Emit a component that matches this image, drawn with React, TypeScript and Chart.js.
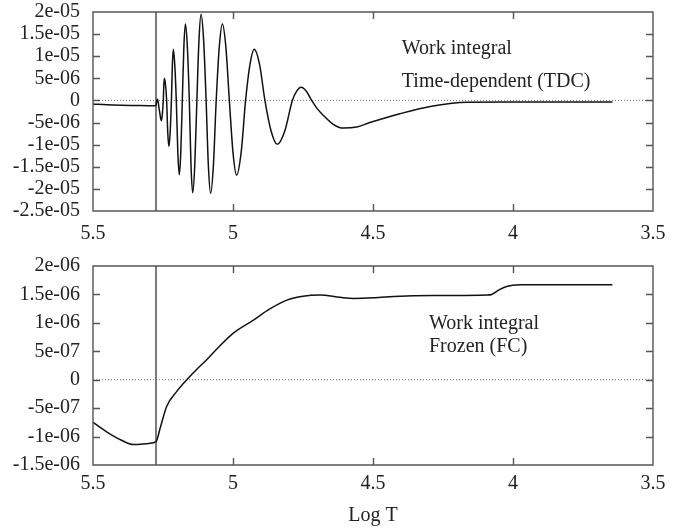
import React, { useEffect, useRef } from "react";
import { Chart, registerables } from "chart.js";

Chart.register(...registerables);

// ---------- data ----------
const xTicks = [5.5, 5, 4.5, 4, 3.5];
const topYTicks = [-2.5e-5, -2e-5, -1.5e-5, -1e-5, -5e-6, 0, 5e-6, 1e-5, 1.5e-5, 2e-5];
const bottomYTicks = [-1.5e-6, -1e-6, -5e-7, 0, 5e-7, 1e-6, 1.5e-6, 2e-6];

const boundaryLogT = 5.275;

// top panel (TDC), values in units of 1e-6
const topLogT = [
  5.5, 5.45, 5.4, 5.35, 5.3, 5.276, 5.27, 5.263, 5.256, 5.2525, 5.249, 5.247, 5.245, 5.241, 5.237,
  5.233, 5.229, 5.2245, 5.22, 5.2165, 5.213, 5.208, 5.2025, 5.197, 5.192, 5.1865, 5.181, 5.1755, 5.17,
  5.163, 5.156, 5.15, 5.144, 5.1365, 5.129, 5.1215, 5.114, 5.105, 5.096, 5.088, 5.08, 5.07, 5.06,
  5.049, 5.038, 5.0255, 5.013, 5.0, 4.987, 4.971, 4.955, 4.9395, 4.924, 4.905, 4.886, 4.864, 4.842,
  4.815, 4.788, 4.7725, 4.757, 4.738, 4.719, 4.7, 4.677, 4.642, 4.606, 4.558, 4.511, 4.404, 4.286,
  4.164, 4.0, 3.8, 3.645,
];
const topWorkE6 = [
  -0.8, -1.0, -1.1, -1.15, -1.2, -1.2, 0.3, -2.2, -4.6, -3.2, 0, 3.5, 5.0, 3.5, 0,
  -7.3, -10.4, -7.3, 0, 8.1, 11.6, 8.1, 0, -11.8, -16.8, -11.8, 0, 12.1, 17.3,
  12.1, 0, -14.6, -20.9, -14.6, 0, 13.7, 19.5, 13.7, 0, -14.7, -21.0, -14.7, 0,
  12.1, 17.3, 12.1, 0, -11.8, -16.9, -11.8, 0, 8.1, 11.6, 8.1, 0, -6.9, -9.9,
  -6.9, 0, 2.1, 3.0, 2.1, 0, -1.8, -3.4, -5.4, -6.25, -6.0, -5.0, -3.0, -1.25,
  -0.4, -0.35, -0.35, -0.35,
];

// bottom panel (FC), values in units of 1e-6
const bottomLogT = [
  5.5, 5.45, 5.4, 5.356, 5.3, 5.275, 5.26, 5.237, 5.2, 5.165, 5.13, 5.094, 5.05, 4.999, 4.927, 4.87,
  4.808, 4.75, 4.689, 4.618, 4.57, 4.5, 4.404, 4.25, 4.094, 4.076, 4.05, 4.023, 3.975, 3.8, 3.645,
];
const bottomWorkE6 = [
  -0.75, -0.92, -1.06, -1.14, -1.12, -1.09, -0.85, -0.47, -0.2, 0, 0.18,
  0.35, 0.58, 0.82, 1.05, 1.24, 1.4, 1.47, 1.49, 1.45, 1.43, 1.44,
  1.47, 1.48, 1.49, 1.5, 1.58, 1.64, 1.67, 1.67, 1.67,
];

const topNotes = ["Work integral", "Time-dependent (TDC)"];
const topNoteAnchor = { logT: 4.397, values: [11.6e-6, 4.2e-6] };
const bottomNotes = ["Work integral", "Frozen (FC)"];
const bottomNoteAnchor = { logT: 4.3, values: [0.977e-6, 0.579e-6] };

// ---------- helpers ----------
const SERIF = '"Liberation Serif", "Times New Roman", serif';

function formatG(v: number): string {
  if (Math.abs(v) < 1e-20) return "0";
  const s = Number(v.toPrecision(6)).toExponential();
  return s.replace(/e([+-])(\d)$/, "e$10$2");
}

function framePlugin(notes: string[], anchor: { logT: number; values: number[] }) {
  return {
    id: "frame",
    afterDatasetsDraw(chart: any) {
      const { ctx, chartArea } = chart;
      const { left, right, top, bottom } = chartArea;
      const xs = chart.scales.x;
      const ys = chart.scales.y;
      ctx.save();
      ctx.strokeStyle = "#555";
      ctx.lineWidth = 1.4;
      ctx.beginPath();
      ctx.rect(left, top, right - left, bottom - top);
      ctx.stroke();
      const L = 7;
      ctx.beginPath();
      for (const t of xs.ticks) {
        const px = Math.round(xs.getPixelForValue(t.value)) + 0.5;
        if (px <= left + 1 || px >= right - 1) continue;
        ctx.moveTo(px, bottom);
        ctx.lineTo(px, bottom - L);
        ctx.moveTo(px, top);
        ctx.lineTo(px, top + L);
      }
      for (const t of ys.ticks) {
        const py = Math.round(ys.getPixelForValue(t.value)) + 0.5;
        if (py <= top + 1 || py >= bottom - 1) continue;
        ctx.moveTo(left, py);
        ctx.lineTo(left + L, py);
        ctx.moveTo(right, py);
        ctx.lineTo(right - L, py);
      }
      ctx.stroke();
      ctx.fillStyle = "#222";
      ctx.font = `20px ${SERIF}`;
      ctx.textAlign = "left";
      ctx.textBaseline = "middle";
      notes.forEach((n, i) => {
        ctx.fillText(n, xs.getPixelForValue(anchor.logT), ys.getPixelForValue(anchor.values[i]));
      });
      ctx.restore();
    },
  };
}

function makeConfig(opts: {
  logT: number[];
  workE6: number[];
  yTicks: number[];
  padTop: number;
  xHeight: number;
  xPad: number;
  title: boolean;
  notes: string[];
  anchor: { logT: number; values: number[] };
}) {
  const yMin = opts.yTicks[0];
  const yMax = opts.yTicks[opts.yTicks.length - 1];
  return {
    type: "line",
    data: {
      datasets: [
        {
          data: opts.logT.map((x, i) => ({ x, y: opts.workE6[i] * 1e-6 })),
          borderColor: "#111",
          borderWidth: 1.5,
          pointRadius: 0,
          fill: false,
          cubicInterpolationMode: "monotone",
        },
        {
          data: [
            { x: boundaryLogT, y: yMin },
            { x: boundaryLogT, y: yMax },
          ],
          borderColor: "#444",
          borderWidth: 1.4,
          pointRadius: 0,
          tension: 0,
        },
        {
          data: [
            { x: 5.5, y: 0 },
            { x: 3.5, y: 0 },
          ],
          borderColor: "#777",
          borderWidth: 1,
          borderDash: [1, 2],
          pointRadius: 0,
          tension: 0,
        },
      ],
    },
    options: {
      responsive: false,
      animation: false,
      events: [],
      layout: { padding: { top: opts.padTop, right: 25, left: 0, bottom: 0 } },
      plugins: { legend: { display: false }, tooltip: { enabled: false }, title: { display: false } },
      scales: {
        x: {
          type: "linear",
          min: 3.5,
          max: 5.5,
          reverse: true,
          grid: { display: false, drawTicks: false },
          border: { display: false },
          afterBuildTicks: (s: any) => {
            s.ticks = xTicks.map((v) => ({ value: v }));
          },
          afterFit: (s: any) => {
            s.height = opts.xHeight;
            s.paddingLeft = 0;
            s.paddingRight = 0;
          },
          ticks: {
            autoSkip: false,
            maxRotation: 0,
            padding: opts.xPad,
            color: "#222",
            font: { family: SERIF, size: 20 },
            callback: (v: any) => String(v),
          },
          title: {
            display: opts.title,
            text: "Log T",
            color: "#222",
            font: { family: SERIF, size: 20 },
            padding: { top: 0, bottom: 3 },
          },
        },
        y: {
          type: "linear",
          min: yMin,
          max: yMax,
          grid: { display: false, drawTicks: false },
          border: { display: false },
          afterBuildTicks: (s: any) => {
            s.ticks = opts.yTicks.map((v) => ({ value: v }));
          },
          afterFit: (s: any) => {
            s.width = 93;
            s.paddingTop = 0;
            s.paddingBottom = 0;
          },
          ticks: {
            autoSkip: false,
            padding: 13,
            color: "#222",
            font: { family: SERIF, size: 20 },
            callback: (v: any) => formatG(Number(v)),
          },
        },
      },
    },
    plugins: [framePlugin(opts.notes, opts.anchor)],
  } as any;
}

export default function App() {
  const topRef = useRef<HTMLCanvasElement>(null);
  const botRef = useRef<HTMLCanvasElement>(null);

  useEffect(() => {
    const c1 = new Chart(
      topRef.current as HTMLCanvasElement,
      makeConfig({
        logT: topLogT,
        workE6: topWorkE6,
        yTicks: topYTicks,
        padTop: 12,
        xHeight: 39,
        xPad: 11,
        title: false,
        notes: topNotes,
        anchor: topNoteAnchor,
      })
    );
    const c2 = new Chart(
      botRef.current as HTMLCanvasElement,
      makeConfig({
        logT: bottomLogT,
        workE6: bottomWorkE6,
        yTicks: bottomYTicks,
        padTop: 16,
        xHeight: 66,
        xPad: 7,
        title: true,
        notes: bottomNotes,
        anchor: bottomNoteAnchor,
      })
    );
    return () => {
      c1.destroy();
      c2.destroy();
    };
  }, []);

  return (
    <div style={{ position: "fixed", left: 0, top: 0, width: 678, height: 531, background: "#fff" }}>
      <canvas ref={topRef} width={678} height={250} style={{ position: "absolute", left: 0, top: 0 }} />
      <canvas ref={botRef} width={678} height={281} style={{ position: "absolute", left: 0, top: 250 }} />
    </div>
  );
}
